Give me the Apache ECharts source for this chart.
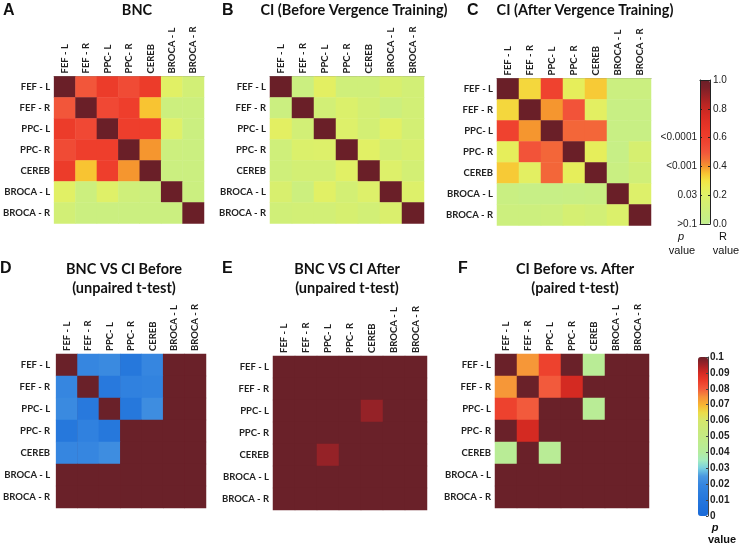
<!DOCTYPE html>
<html>
<head>
<meta charset="utf-8">
<script src="https://cdn.jsdelivr.net/npm/echarts@6/dist/echarts.min.js"></script>
<style>html,body{margin:0;padding:0;background:#fff}#chart{width:741px;height:550px}</style>
</head>
<body>
<div id="chart"></div>
<script>
// ---------- DATA ----------
const regions = ['FEF - L', 'FEF - R', 'PPC- L', 'PPC- R', 'CEREB', 'BROCA - L', 'BROCA - R'];

// R values (rows top->bottom, columns left->right)
const bncR = [
  [1.00, 0.50, 0.62, 0.54, 0.62, 0.21, 0.12],
  [0.50, 1.00, 0.55, 0.60, 0.35, 0.08, 0.08],
  [0.62, 0.55, 1.00, 0.60, 0.60, 0.20, 0.07],
  [0.54, 0.60, 0.60, 1.00, 0.40, 0.08, 0.07],
  [0.62, 0.35, 0.60, 0.40, 1.00, 0.07, 0.07],
  [0.21, 0.08, 0.20, 0.10, 0.08, 1.00, 0.07],
  [0.12, 0.07, 0.07, 0.07, 0.07, 0.07, 1.00]
];
const ciBeforeR = [
  [1.00, 0.07, 0.22, 0.10, 0.10, 0.16, 0.12],
  [0.07, 1.00, 0.12, 0.18, 0.13, 0.08, 0.12],
  [0.22, 0.12, 1.00, 0.19, 0.13, 0.21, 0.13],
  [0.10, 0.18, 0.19, 1.00, 0.21, 0.13, 0.16],
  [0.10, 0.13, 0.13, 0.21, 1.00, 0.19, 0.13],
  [0.16, 0.08, 0.21, 0.13, 0.19, 1.00, 0.19],
  [0.11, 0.12, 0.12, 0.15, 0.12, 0.17, 1.00]
];
const ciAfterR = [
  [1.00, 0.32, 0.58, 0.24, 0.34, 0.07, 0.07],
  [0.32, 1.00, 0.40, 0.51, 0.22, 0.05, 0.05],
  [0.58, 0.40, 1.00, 0.47, 0.47, 0.05, 0.05],
  [0.24, 0.51, 0.47, 1.00, 0.24, 0.04, 0.15],
  [0.34, 0.22, 0.47, 0.24, 1.00, 0.06, 0.11],
  [0.06, 0.04, 0.04, 0.05, 0.06, 1.00, 0.19],
  [0.08, 0.08, 0.09, 0.14, 0.12, 0.18, 1.00]
];
// p values (clipped at 0.1)
const bncVsBeforeP = [
  [0.100, 0.020, 0.021, 0.011, 0.020, 0.100, 0.100],
  [0.020, 0.100, 0.012, 0.017, 0.018, 0.100, 0.100],
  [0.021, 0.012, 0.100, 0.011, 0.022, 0.100, 0.100],
  [0.011, 0.017, 0.011, 0.100, 0.100, 0.100, 0.100],
  [0.020, 0.020, 0.022, 0.100, 0.100, 0.100, 0.100],
  [0.100, 0.100, 0.100, 0.100, 0.100, 0.100, 0.100],
  [0.100, 0.100, 0.100, 0.100, 0.100, 0.100, 0.100]
];
const bncVsAfterP = [
  [0.100, 0.100, 0.100, 0.100, 0.100, 0.100, 0.100],
  [0.100, 0.100, 0.100, 0.100, 0.100, 0.100, 0.100],
  [0.100, 0.100, 0.100, 0.100, 0.096, 0.100, 0.100],
  [0.100, 0.100, 0.100, 0.100, 0.100, 0.100, 0.100],
  [0.100, 0.100, 0.096, 0.100, 0.100, 0.100, 0.100],
  [0.100, 0.100, 0.100, 0.100, 0.100, 0.100, 0.100],
  [0.100, 0.100, 0.100, 0.100, 0.100, 0.100, 0.100]
];
const beforeVsAfterP = [
  [0.100, 0.074, 0.084, 0.100, 0.043, 0.100, 0.100],
  [0.074, 0.100, 0.080, 0.090, 0.100, 0.100, 0.100],
  [0.084, 0.080, 0.100, 0.100, 0.043, 0.100, 0.100],
  [0.100, 0.090, 0.100, 0.100, 0.100, 0.100, 0.100],
  [0.043, 0.100, 0.043, 0.100, 0.100, 0.100, 0.100],
  [0.100, 0.100, 0.100, 0.100, 0.100, 0.100, 0.100],
  [0.100, 0.100, 0.100, 0.100, 0.100, 0.100, 0.100]
];

const rTickLabels = ['0.0', '0.2', '0.4', '0.6', '0.8', '1.0'];
const rPTickLabels = ['>0.1', '0.03', '<0.001', '<0.0001', '', ''];
const pTickLabels = ['0', '0.01', '0.02', '0.03', '0.04', '0.05', '0.06', '0.07', '0.08', '0.09', '0.1'];

const titlesTop = ['BNC', 'CI (Before Vergence Training)', 'CI (After Vergence Training)'];
const titlesBottom = [['BNC VS CI Before', '(unpaired t-test)'], ['BNC VS CI After', '(unpaired t-test)'], ['CI Before vs. After', '(paired t-test)']];
const letters = ['A', 'B', 'C', 'D', 'E', 'F'];

// ---------- STYLE ----------
const rColors = ['#c2ee8e', '#c8ef84', '#cfef7a', '#d6ef70', '#dff068', '#e8ee58', '#f2e444', '#f8c432', '#f5962f', '#f37038', '#f2563a', '#f04834', '#ee3e2c', '#ea3828', '#e23226', '#d82c24', '#c82822', '#b02424', '#942226', '#7a2028', '#6a1f28'];
const pColors = ['#1a6ad8', '#1f70da', '#2576dc', '#2c7ede', '#3686e0', '#4a98e0', '#78d0e0', '#a4ecc0', '#b4ec9e', '#bcec90', '#c4ea84', '#cce878', '#d6e66c', '#ecdc48', '#f8b432', '#f5903a', '#f25a3c', '#ec3c2a', '#d42a22', '#a02226', '#6a2129'];
const pBase = '#6a2129';

const matrices = [bncR, ciBeforeR, ciAfterR, bncVsBeforeP, bncVsAfterP, beforeVsAfterP];
// cell sizes chosen as whole pixels so cells tile without seams
const gridPos = [
  {left: 50, top: 76.5, width: 154, height: 147},
  {left: 270, top: 76.5, width: 154, height: 147},
  {left: 497, top: 78.5, width: 154, height: 147},
  {left: 52, top: 354, width: 154, height: 154},
  {left: 273, top: 356, width: 154, height: 154},
  {left: 495, top: 354, width: 154, height: 154}
];
const catFont = {fontFamily: 'Lato', fontWeight: 'bold', fontSize: 9.5, color: '#222'};

const grids = [], xAxes = [], yAxes = [], series = [];
matrices.forEach((m, i) => {
  const g = Object.assign({containLabel: false}, gridPos[i]);
  if (i >= 3) Object.assign(g, {show: true, backgroundColor: pBase, borderWidth: 0});
  grids.push(g);
  xAxes.push({
    type: 'category', gridIndex: i, data: regions, position: 'top',
    axisLabel: Object.assign({rotate: -90, interval: 0, margin: 3}, catFont),
    axisTick: {show: false}, splitLine: {show: false}, splitArea: {show: false},
    axisLine: {show: i < 3, lineStyle: {color: '#888', width: 1}}
  });
  yAxes.push({
    type: 'category', gridIndex: i, data: regions, inverse: true,
    axisLabel: Object.assign({interval: 0, margin: i === 3 ? 6 : 4}, catFont),
    axisTick: {show: false}, axisLine: {show: false}, splitLine: {show: false}, splitArea: {show: false}
  });
  const data = [];
  m.forEach((row, r) => row.forEach((v, c) => data.push([c, r, v])));
  series.push({
    type: 'heatmap', xAxisIndex: i, yAxisIndex: i, data: data,
    itemStyle: {borderWidth: 0}, emphasis: {disabled: true}, progressive: 0
  });
});

// colorbar grids
const cbR = {left: 700, top: 80, width: 10, height: 144};
const cbP = {left: 698, top: 357, width: 10, height: 159};
grids.push(cbR, cbP);
const numFont = {fontFamily: 'Liberation Sans', fontSize: 10, color: '#222'};
// R colorbar axes (grid 6)
xAxes.push({type: 'value', gridIndex: 6, min: 0, max: 1, position: 'bottom', z: 10,
  axisLabel: {show: false}, axisTick: {show: false}, splitLine: {show: false},
  axisLine: {show: true, onZero: false, lineStyle: {color: '#222'}}});
xAxes.push({type: 'value', gridIndex: 6, min: 0, max: 1, position: 'top', z: 10,
  axisLabel: {show: false}, axisTick: {show: false}, splitLine: {show: false},
  axisLine: {show: true, onZero: false, lineStyle: {color: '#222'}}});
yAxes.push({type: 'value', gridIndex: 6, min: 0, max: 1, interval: 0.2, position: 'right', z: 10,
  axisLabel: Object.assign({margin: 3, formatter: v => rTickLabels[Math.round(v / 0.2)]}, numFont),
  axisTick: {show: true, inside: true, length: 2, lineStyle: {color: '#222'}},
  splitLine: {show: false}, axisLine: {show: true, onZero: false, lineStyle: {color: '#222'}}});
yAxes.push({type: 'value', gridIndex: 6, min: 0, max: 1, interval: 0.2, position: 'left', z: 10,
  axisLabel: Object.assign({margin: 3, formatter: v => rPTickLabels[Math.round(v / 0.2)]}, numFont),
  axisTick: {show: true, inside: true, length: 2, lineStyle: {color: '#222'}},
  splitLine: {show: false}, axisLine: {show: true, onZero: false, lineStyle: {color: '#222'}}});
// p colorbar axes (grid 7)
xAxes.push({type: 'value', gridIndex: 7, min: 0, max: 1, show: false});
yAxes.push({type: 'value', gridIndex: 7, min: 0, max: 0.1, interval: 0.01, position: 'right', z: 10,
  axisLabel: Object.assign({}, numFont, {margin: 2, fontWeight: 'bold', formatter: v => pTickLabels[Math.round(v / 0.01)]}),
  axisTick: {show: true, inside: true, length: 2, lineStyle: {color: '#444'}},
  splitLine: {show: false}, axisLine: {show: true, onZero: false, lineStyle: {color: '#444'}}});

const visualMaps = [
  {type: 'continuous', min: 0, max: 1, seriesIndex: [0, 1, 2], inRange: {color: rColors},
   left: cbR.left, top: cbR.top, itemWidth: cbR.width, itemHeight: cbR.height, padding: 0,
   calculable: false, hoverLink: false, show: true},
  {type: 'continuous', min: 0, max: 0.1, seriesIndex: [3, 4, 5], inRange: {color: pColors},
   left: cbP.left, top: cbP.top, itemWidth: cbP.width, itemHeight: cbP.height, padding: 0,
   calculable: false, hoverLink: false, show: true}
];

// text elements
const graphics = [];
const txt = (text, x, y, font, align) => graphics.push({type: 'text', x: x, y: y, silent: true,
  style: {text: text, font: font, fill: '#111', align: align || 'center', verticalAlign: 'middle'}});
const titleFont = 'bold 14.5px Lato';
const topCenters = [137, 354, 585];
titlesTop.forEach((t, i) => txt(t, topCenters[i], 10, titleFont));
const botCenters = [124, 347, 575];
titlesBottom.forEach((t, i) => { txt(t[0], botCenters[i], 269, titleFont); txt(t[1], botCenters[i], 288, titleFont); });
const letterPos = [[3, 11], [222, 11], [467, 11], [0, 269], [222, 269], [458, 269]];
letters.forEach((l, i) => txt(l, letterPos[i][0], letterPos[i][1], 'bold 16px "Liberation Sans"', 'left'));
txt('p', 681, 237, 'italic 11px "Liberation Sans"');
txt('value', 682, 251, '11px "Liberation Sans"');
txt('R', 723, 237, '11px "Liberation Sans"');
txt('value', 726, 251, '11px "Liberation Sans"');
txt('p', 715, 528, 'bold italic 11px "Liberation Sans"');
txt('value', 722, 540, 'bold 11px "Liberation Sans"');

const chart = echarts.init(document.getElementById('chart'), null, {renderer: 'canvas'});
chart.setOption({
  animation: false,
  backgroundColor: '#fff',
  grid: grids, xAxis: xAxes, yAxis: yAxes, series: series,
  visualMap: visualMaps, graphic: graphics
});
</script>
</body>
</html>
